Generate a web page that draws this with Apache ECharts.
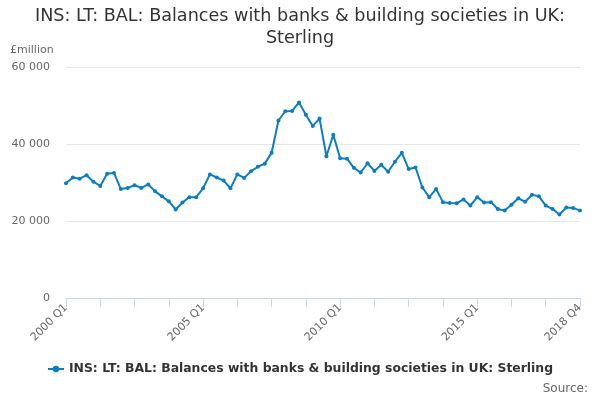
<!DOCTYPE html>
<html>
<head>
<meta charset="UTF-8">
<title>INS: LT: BAL</title>
<script src="https://cdn.jsdelivr.net/npm/echarts@6/dist/echarts.min.js"></script>
<style>
  html, body { margin: 0; padding: 0; background: #fff; }
  #main { width: 600px; height: 400px; }
</style>
</head>
<body>
<div id="main"></div>
<script>
// quarters 2000 Q1 .. 2018 Q4
var quarters = [];
for (var y = 2000; y <= 2018; y++) {
  for (var q = 1; q <= 4; q++) quarters.push(y + ' Q' + q);
}

// £million
var balances = [
  29800, 31300, 31000, 31900, 30200, 29100, 32300, 32500, 28300, 28600,
  29300, 28600, 29500, 27700, 26400, 25100, 23000, 24800, 26200, 26200,
  28500, 32100, 31300, 30500, 28500, 32100, 31200, 32900, 34100, 34900,
  37700, 46100, 48500, 48600, 50800, 47600, 44700, 46600, 36800, 42400,
  36300, 36200, 33800, 32600, 35000, 33000, 34600, 32800, 35400, 37700,
  33500, 33900, 28700, 26200, 28300, 24900, 24700, 24600, 25600, 24000,
  26200, 24800, 24900, 23100, 22700, 24200, 25900, 25000, 26800, 26400,
  24000, 23100, 21700, 23500, 23400, 22700
];

var seriesName = 'INS: LT: BAL: Balances with banks & building societies in UK: Sterling';
var labelIdx = [0, 20, 40, 60, 75];

var chart = echarts.init(document.getElementById('main'));
chart.setOption({
  animation: false,
  textStyle: { fontFamily: 'DejaVu Sans' },
  title: {
    text: 'INS: LT: BAL: Balances with banks & building societies in UK:\nSterling',
    left: 'center',
    top: 0,
    textStyle: { fontSize: 17.6, fontWeight: 'normal', color: '#333', lineHeight: 22 }
  },
  graphic: [
    { type: 'text', left: 10, top: 45, style: { text: '£million', fill: '#666', font: '11px DejaVu Sans' } },
    { type: 'text', right: 12, top: 383, style: { text: 'Source:', fill: '#666', font: '12px DejaVu Sans' } }
  ],
  legend: {
    bottom: 20,
    left: 'center',
    itemWidth: 16,
    itemHeight: 8,
    itemGap: 5,
    textStyle: { fontSize: 12.4, fontWeight: 'bold', color: '#333' },
    data: [seriesName]
  },
  grid: { left: 66, right: 20, top: 67, bottom: 102, containLabel: false },
  xAxis: {
    type: 'category',
    data: quarters,
    boundaryGap: false,
    axisLine: { lineStyle: { color: '#ccd6eb' } },
    axisTick: {
      alignWithLabel: true,
      length: 9,
      lineStyle: { color: '#ccd6eb' },
      interval: function (i) { return i % 5 === 0; }
    },
    axisLabel: {
      color: '#666',
      fontSize: 11,
      rotate: 45,
      margin: 8,
      interval: function (i) { return labelIdx.indexOf(i) >= 0; }
    },
    splitLine: { show: false }
  },
  yAxis: {
    type: 'value',
    min: 0,
    max: 60000,
    interval: 20000,
    axisLine: { show: false },
    axisTick: { show: false },
    axisLabel: {
      color: '#666',
      fontSize: 11,
      margin: 16,
      formatter: function (v) { return v === 0 ? '0' : String(v).replace(/\B(?=(\d{3})+(?!\d))/g, ' '); }
    },
    splitLine: { lineStyle: { color: '#e6e6e6' } }
  },
  series: [{
    name: seriesName,
    type: 'line',
    data: balances,
    symbol: 'circle',
    symbolSize: 4,
    itemStyle: { color: '#0b7dc1' },
    lineStyle: { color: '#0b7dc1', width: 2 }
  }]
});
</script>
</body>
</html>
